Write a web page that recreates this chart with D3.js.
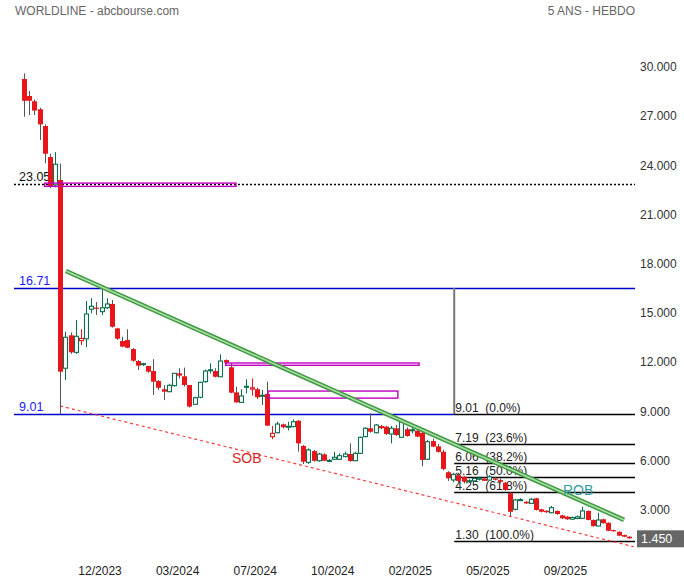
<!DOCTYPE html>
<html><head><meta charset="utf-8">
<script src="https://cdn.jsdelivr.net/npm/d3@7"></script>
<style>body{margin:0;background:#fff}svg{display:block;font-family:"Liberation Sans",Arial,sans-serif}</style>
</head><body><svg id="c" width="684" height="580"></svg>
<script>
// ---- data (weekly candles) ----
const openV=[29.46,28.42,28.10,27.61,26.59,24.70,23.00,23.30,11.82,13.83,12.79,13.50,13.62,15.42,15.52,15.27,15.51,15.74,14.25,13.48,13.54,12.99,12.26,12.05,11.96,11.65,11.04,10.54,10.39,10.76,11.51,11.33,10.80,9.62,10.05,11.00,11.68,11.65,11.30,12.32,11.88,10.35,9.74,10.68,10.55,10.54,10.13,10.25,7.65,7.89,8.40,8.24,8.26,8.62,7.08,6.08,6.77,6.18,6.57,6.16,6.27,6.27,6.43,6.59,6.18,6.63,7.65,8.16,7.89,8.30,8.26,7.81,8.16,7.61,8.10,8.03,8.01,7.88,6.27,7.38,7.06,6.73,5.48,5.01,5.30,5.20,4.92,4.95,5.05,5.00,5.00,5.10,5.00,4.84,4.20,3.22,3.77,3.68,3.58,3.89,3.22,3.13,3.01,3.12,2.85,2.77,2.62,2.66,2.67,3.12,2.57,2.20,2.61,2.40,1.95,1.85,1.65,1.55];
const highV=[29.80,28.73,28.20,27.70,26.69,24.90,25.00,24.30,14.05,14.00,14.76,14.20,15.92,16.09,15.86,16.71,16.09,15.98,14.28,13.74,14.20,13.05,12.32,12.16,11.96,12.37,11.10,10.79,10.88,11.51,11.82,11.86,10.80,10.08,11.00,11.75,12.12,11.82,12.67,12.36,12.12,10.70,10.54,11.15,11.20,10.63,10.50,11.00,8.30,8.56,8.45,8.56,8.70,8.66,7.14,6.94,6.84,6.67,6.63,6.28,6.73,6.63,6.73,7.24,6.73,7.65,8.22,9.07,8.42,8.36,8.30,8.30,8.36,8.66,8.22,8.30,8.16,7.95,7.45,7.53,7.20,6.85,5.55,5.45,5.45,5.25,5.05,5.20,5.20,5.18,5.30,5.20,5.10,4.90,4.25,3.85,3.90,3.72,3.90,3.92,3.25,3.16,3.42,3.15,2.88,2.80,2.78,2.85,3.38,3.15,2.60,3.01,2.65,2.42,1.98,1.88,1.68,1.58];
const lowV=[27.16,27.26,27.26,25.74,24.32,22.80,22.85,9.01,11.10,12.70,12.70,13.24,13.10,15.17,15.07,15.07,15.42,14.30,13.55,13.10,13.04,12.22,11.71,11.96,11.55,10.19,10.49,9.88,10.37,10.70,11.20,10.70,9.42,9.58,9.99,10.94,11.50,11.26,11.30,12.08,10.29,9.72,9.72,10.29,10.15,9.95,9.58,8.30,7.49,7.85,8.15,8.02,8.22,6.73,5.98,5.98,6.12,6.12,6.16,6.12,6.22,6.22,6.39,6.12,6.16,6.59,7.61,7.89,7.85,8.10,7.75,7.24,7.69,7.57,7.65,7.85,7.61,5.84,6.22,7.00,6.68,5.60,4.95,4.87,4.85,4.80,4.85,4.90,4.98,4.95,4.95,4.98,4.80,4.35,2.81,3.15,3.72,3.55,3.55,3.15,3.03,3.00,2.98,2.88,2.62,2.58,2.58,2.62,2.64,2.55,2.15,2.18,2.34,1.88,1.86,1.58,1.52,1.42];
const closeV=[28.13,28.13,27.53,26.69,24.90,22.89,24.26,11.61,13.71,12.79,13.77,13.64,15.13,15.60,15.47,15.51,15.74,14.35,13.62,13.14,13.07,12.28,11.98,12.10,11.61,11.00,10.63,10.39,10.78,11.51,11.37,10.80,9.48,10.02,10.96,11.65,11.73,11.30,12.26,12.16,10.33,9.74,10.13,10.72,10.63,10.05,10.17,8.32,7.85,8.42,8.22,8.28,8.56,7.24,6.12,6.84,6.18,6.59,6.18,6.20,6.39,6.49,6.59,6.16,6.63,7.61,8.16,7.95,8.36,8.16,7.81,8.16,7.75,8.56,7.69,8.07,7.65,6.23,7.34,7.04,6.72,5.68,5.11,5.35,4.95,4.90,4.96,5.10,5.12,5.05,5.20,5.02,4.90,4.40,3.07,3.79,3.81,3.58,3.83,3.18,3.07,3.04,3.32,2.93,2.67,2.61,2.72,2.76,3.12,2.57,2.20,2.57,2.37,1.91,1.90,1.61,1.55,1.45];

const yTicks=[3,6,9,12,15,18,21,24,27,30];
const xTickIdx=[15,30,45,60,75,90,105];
const xTickLabels=["12/2023","03/2024","07/2024","10/2024","02/2025","05/2025","09/2025"];
const fibLevels=[9.01,7.19,6.06,5.16,4.25,1.30];
const fibPct=["0.0%","23.6%","38.2%","50.0%","61.8%","100.0%"];
const fibStartIdx=83.2;
const levelDotted=23.05, levelHigh=16.71, levelLow=9.01;
const zones=[[4,41,22.91,23.11],[39,76.4,12.0,12.14],[47.2,72.3,10.0,10.43]];
const resistLine=[[8.1,17.75],[116.05,2.57]];
const supportLine=[[7,9.52],[117.9,0.94]];
const lastPrice=1.45;

// ---- layout ----
const svg=d3.select("#c");
const plotL=14, plotR=635;
const x=d3.scaleLinear().domain([0,117]).range([24,629]);
const y=d3.scaleLinear().domain([0,30]).range([562.1,70.1]);
const fmt=d3.format(".3f");
const RED="#e8161b", GREEN="#0b6e4f";

// title
svg.append("text").attr("x",15).attr("y",15).attr("font-size",12).attr("fill","#666").text("WORLDLINE - abcbourse.com");
svg.append("text").attr("x",635).attr("y",15).attr("font-size",12).attr("fill","#666").attr("text-anchor","end").text("5 ANS - HEBDO");

// y axis labels
svg.append("g").selectAll("text").data(yTicks).join("text")
  .attr("x",640).attr("y",d=>y(d)+1).attr("font-size",12).attr("fill","#333").text(d=>fmt(d));
// x axis labels
svg.append("g").selectAll("text").data(xTickIdx).join("text")
  .attr("x",d=>x(d)-1.5).attr("y",575).attr("font-size",12).attr("fill","#222").attr("text-anchor","middle")
  .text((d,i)=>xTickLabels[i]);

// key levels
const g0=svg.append("g");
g0.append("line").attr("x1",plotL).attr("x2",plotR).attr("y1",Math.round(y(levelDotted))+0.5).attr("y2",Math.round(y(levelDotted))+0.5)
  .attr("stroke","#000").attr("stroke-width",1.3).attr("stroke-dasharray","2,2");
g0.append("text").attr("x",19).attr("y",y(levelDotted)-3).attr("font-size",12.5).attr("fill","#111").text(levelDotted.toFixed(2));
g0.append("line").attr("x1",plotL).attr("x2",plotR).attr("y1",Math.round(y(levelHigh))+0.5).attr("y2",Math.round(y(levelHigh))+0.5)
  .attr("stroke","#0000cc").attr("stroke-width",1.3);
g0.append("text").attr("x",19).attr("y",y(levelHigh)-3).attr("font-size",12.5).attr("fill","#1a1aff").text(levelHigh.toFixed(2));
g0.append("line").attr("x1",plotL).attr("x2",x(fibStartIdx)).attr("y1",Math.round(y(levelLow))+0.5).attr("y2",Math.round(y(levelLow))+0.5)
  .attr("stroke","#0000cc").attr("stroke-width",1.3);
g0.append("text").attr("x",19).attr("y",y(levelLow)-3).attr("font-size",12.5).attr("fill","#1a1aff").text(levelLow.toFixed(2));

// fibonacci
g0.append("line").attr("x1",x(fibStartIdx)).attr("x2",x(fibStartIdx)).attr("y1",y(levelHigh)).attr("y2",y(levelLow))
  .attr("stroke","#777").attr("stroke-width",2);
fibLevels.forEach((v,i)=>{
  const yy=Math.round(y(v))+0.5;
  g0.append("line").attr("x1",x(fibStartIdx)).attr("x2",plotR).attr("y1",yy).attr("y2",yy).attr("stroke","#000").attr("stroke-width",1.3);
  g0.append("text").attr("x",x(fibStartIdx)+1).attr("y",yy-3).attr("font-size",12).attr("fill","#222")
    .attr("xml:space","preserve").style("white-space","pre").text(v.toFixed(2)+"  ("+fibPct[i]+")");
});

// support dotted line
svg.append("line").attr("x1",x(supportLine[0][0])).attr("y1",y(supportLine[0][1]))
  .attr("x2",x(supportLine[1][0])).attr("y2",y(supportLine[1][1]))
  .attr("stroke","#ff3b3b").attr("stroke-width",1.2).attr("stroke-dasharray","3,3");

// candles
const gc=svg.append("g");
const bw=4;
openV.forEach((o,i)=>{
  const c=closeV[i], h=highV[i], l=lowV[i];
  const prev=i>0?closeV[i-1]:o;
  const down=c<o;
  const col=down?RED:(c>=prev?GREEN:RED);
  const cx=Math.round(x(i))+0.5;
  gc.append("line").attr("x1",cx).attr("x2",cx).attr("y1",y(h)).attr("y2",y(l))
    .attr("stroke",down?"#555":col).attr("stroke-width",1);
  const top=y(Math.max(o,c)), bot=y(Math.min(o,c));
  if(down){
    gc.append("rect").attr("x",cx-bw/2-0.5).attr("y",top).attr("width",bw+1).attr("height",Math.max(1.2,bot-top)).attr("fill",RED);
  } else {
    gc.append("rect").attr("x",cx-bw/2).attr("y",top).attr("width",bw).attr("height",Math.max(1,bot-top))
      .attr("fill","#fff").attr("stroke",col).attr("stroke-width",1.1);
  }
});

// zones
svg.append("g").selectAll("rect").data(zones).join("rect")
  .attr("x",d=>x(d[0])).attr("width",d=>x(d[1])-x(d[0]))
  .attr("y",d=>y(d[3])).attr("height",d=>y(d[2])-y(d[3]))
  .attr("fill","none").attr("stroke","#c000c0").attr("stroke-width",1.4);

// resistance trendline (double line)
const rl=svg.append("g");
rl.append("line").attr("x1",x(resistLine[0][0])).attr("y1",y(resistLine[0][1])).attr("x2",x(resistLine[1][0])).attr("y2",y(resistLine[1][1]))
  .attr("stroke","#3f9a3f").attr("stroke-width",4.6);
rl.append("line").attr("x1",x(resistLine[0][0])).attr("y1",y(resistLine[0][1])).attr("x2",x(resistLine[1][0])).attr("y2",y(resistLine[1][1]))
  .attr("stroke","#a8dca8").attr("stroke-width",1.6);

// annotations
svg.append("text").attr("x",232).attr("y",463).attr("font-size",14).attr("fill","#dd2222").text("SOB");
svg.append("text").attr("x",563).attr("y",495).attr("font-size",14).attr("fill","#339c9c").text("ROB");

// last price box
const ly=y(lastPrice);
svg.append("rect").attr("x",637).attr("y",ly-8).attr("width",47).attr("height",17).attr("fill","#666");
svg.append("text").attr("x",641).attr("y",ly+5).attr("font-size",12.5).attr("fill","#fff").text(fmt(lastPrice));
</script></body></html>
